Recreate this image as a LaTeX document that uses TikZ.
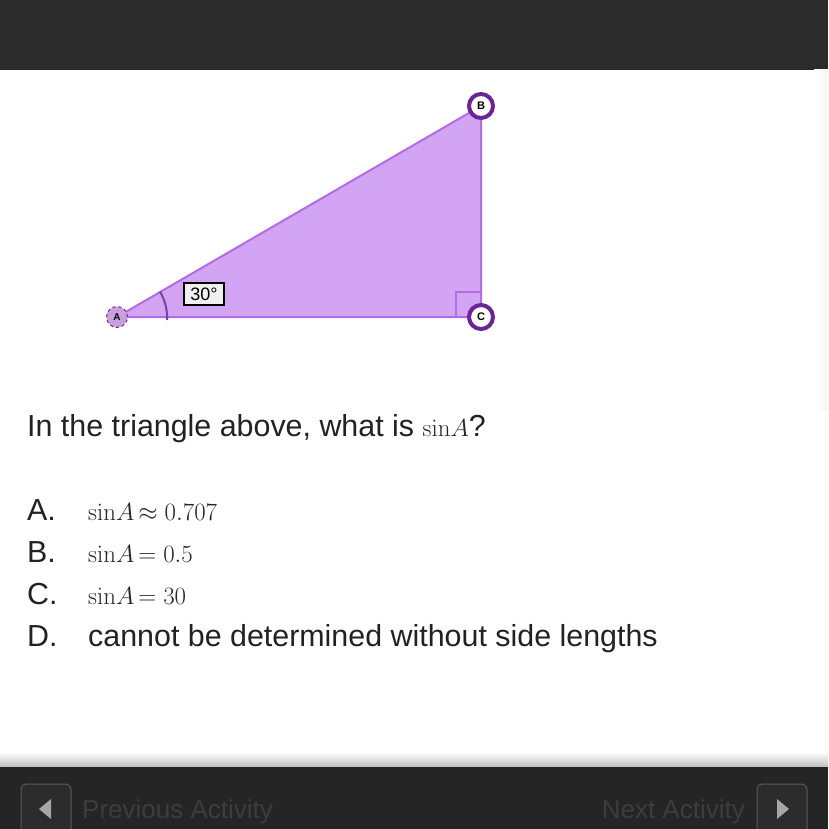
\documentclass[tikz,border=0pt]{standalone}
\usepackage[no-math]{fontspec}
\setmainfont{Liberation Sans}
\usepackage{amsmath,amssymb}
\usepackage{xcolor}

\definecolor{topbar}{HTML}{2B2B2B}
\definecolor{botbar}{HTML}{252525}
\definecolor{trifill}{HTML}{D4A4F4}
\definecolor{triedge}{HTML}{B36BE6}
\definecolor{ringpurple}{HTML}{6A2595}
\definecolor{vtxfill}{HTML}{C9A0DC}
\definecolor{arcpurple}{HTML}{7B3FA8}
\definecolor{boxgray}{HTML}{F0F0F0}
\definecolor{txtgray}{HTML}{222222}
\definecolor{navgray}{HTML}{3D3D3D}
\definecolor{btnedge}{HTML}{5A5A5A}
\definecolor{btnfill}{HTML}{2C2C2C}

% math in the choices, set tight like the reference
\newcommand{\mth}[1]{{\fontsize{28}{32}\selectfont\color{black!85}$#1$}}
\newcommand{\sinA}{\mathrm{sin}A}
\newcommand{\rel}[1]{\mkern3mu{#1}\mkern5mu}

\tikzset{
  vtxring/.style={circle, draw=ringpurple, line width=4pt, fill=white, minimum size=24pt, inner sep=0pt, font=\fontsize{11}{11}\selectfont\bfseries},
  vtxsmall/.style={circle, draw=ringpurple, dashed, line width=1pt, fill=vtxfill, minimum size=21pt, inner sep=0pt, font=\fontsize{10}{10}\selectfont\bfseries},
  optlabel/.style={anchor=base west, inner sep=0pt, font=\fontsize{30.4}{36}\selectfont, text=txtgray},
  navtext/.style={anchor=base west, inner sep=0pt, font=\fontsize{26}{30}\selectfont, text=navgray},
  navbtn/.style={draw=btnedge, fill=btnfill, rounded corners=5pt, line width=1pt}
}

\begin{document}
\begin{tikzpicture}[x=1pt, y=-1pt]
\clip (0,0) rectangle (828,829);
\fill[white] (0,0) rectangle (828,829);

% top bar
\fill[topbar] (0,0) rectangle (828,70);
% faint shadow on the right
\shade[left color=white, right color=gray!8] (814,70) rectangle (828,410);

% triangle
\coordinate (pA) at (117,317);
\coordinate (pB) at (481,106);
\coordinate (pC) at (481,317);
\fill[trifill] (pA) -- (pB) -- (pC) -- cycle;
\draw[triedge, line width=2pt] (pA) -- (pB) -- (pC) -- cycle;

% right angle at C
\draw[triedge, line width=1.5pt] (456,317) -- (456,292) -- (481,292);

% angle mark at A
\draw[arcpurple, line width=2pt] (pA) ++(50,3) arc[start angle=3, end angle=-31, radius=50];
\node[draw=black, line width=1.2pt, fill=boxgray, minimum width=40pt, minimum height=22pt, inner sep=0pt, font=\fontsize{18}{18}\selectfont] (ang) at (204,294) {30°};

% vertices
\node[vtxsmall] (vA) at (pA) {A};
\node[vtxring] (vB) at (pB) {B};
\node[vtxring] (vC) at (pC) {C};

% question and choices
\node[optlabel] (q) at (27,436) {In the triangle above, what is \mth{\sinA}?};
\node[optlabel] (oA) at (27,520) {A.};
\node[optlabel] (eA) at (88,520) {\mth{\sinA\rel{\approx}0.707}};
\node[optlabel] (oB) at (27,562) {B.};
\node[optlabel] (eB) at (88,562) {\mth{\sinA\rel{=}0.5}};
\node[optlabel] (oC) at (27,604) {C.};
\node[optlabel] (eC) at (88,604) {\mth{\sinA\rel{=}30}};
\node[optlabel] (oD) at (27,646) {D.};
\node[optlabel] (eD) at (88,646) {cannot be determined without side lengths};

% bottom bar
\shade[top color=white, bottom color=gray!50] (0,752) rectangle (828,767);
\fill[botbar] (0,767) rectangle (828,829);
\draw[navbtn] (21,784) rectangle (71,845);
\draw[navbtn] (757,784) rectangle (807,845);
\fill[gray!70] (39,809) -- (51,799) -- (51,819) -- cycle;
\fill[gray!70] (789,809) -- (777,799) -- (777,819) -- cycle;
\node[navtext] (prev) at (82,818) {Previous Activity};
\node[navtext, anchor=base east] (next) at (745,818) {Next Activity};
\end{tikzpicture}
\end{document}
